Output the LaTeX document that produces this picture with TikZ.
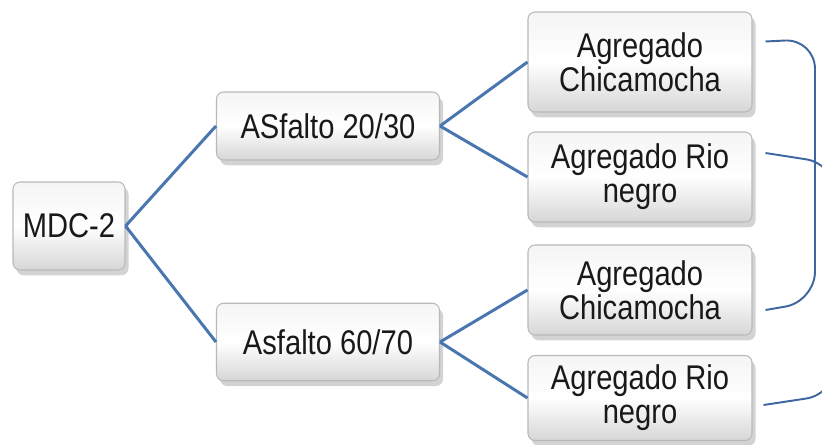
\documentclass[tikz,border=0pt]{standalone}
\usepackage{fontspec}
\setmainfont[FakeStretch=0.85]{Liberation Sans}
\usetikzlibrary{shadows}

\begin{document}
\begin{tikzpicture}[
    box/.style={rectangle, rounded corners=4pt, draw=gray!55, line width=0.6pt,
        top color=gray!8, bottom color=gray!32, middle color=white,
        drop shadow={opacity=0.35, shadow xshift=2pt, shadow yshift=-3pt},
        align=center, text=black!90, inner sep=2pt,
        font=\fontsize{19.5}{19.5}\selectfont},
    link/.style={draw={rgb,255:red,74;green,118;blue,176}, line width=1.7pt},
    brace/.style={draw={rgb,255:red,62;green,102;blue,160}, line width=1.1pt, rounded corners=0.6cm}
]
            \clip (0,0) rectangle (16.44,8.88);
            % root
            \node[box, minimum width=2.24cm, minimum height=1.76cm] (mdc) at (1.38, 4.36) {MDC-2};
            % asphalt boxes
            \node[box, minimum width=4.46cm, minimum height=1.36cm] (asA) at (6.56, 6.36) {ASfalto 20/30};
            \node[box, minimum width=4.46cm, minimum height=1.55cm] (asB) at (6.56, 2.04) {Asfalto 60/70};
            % aggregate boxes
            \node[box, minimum width=4.48cm, minimum height=2.0cm] (chiA) at (12.8, 7.64) {Agregado\\Chicamocha};
            \node[box, minimum width=4.48cm, minimum height=1.8cm] (rioA) at (12.8, 5.34) {Agregado Rio\\negro};
            \node[box, minimum width=4.48cm, minimum height=1.8cm] (chiB) at (12.8, 3.08) {Agregado\\Chicamocha};
            \node[box, minimum width=4.48cm, minimum height=1.7cm] (rioB) at (12.8, 0.92) {Agregado Rio\\negro};
            % tree edges
            \draw[link] (mdc.east) -- (asA.west);
            \draw[link] (mdc.east) -- (asB.west);
            \draw[link] (asA.east) -- (chiA.west);
            \draw[link] (asA.east) -- (rioA.west);
            \draw[link] (asB.east) -- (chiB.west);
            \draw[link] (asB.east) -- (rioB.west);
            % right brackets
            \draw[brace] ([shift={(0.26,-0.6)}]chiA.north east) -- (16.3,8.1) -- (16.3,2.85) -- ([shift={(0.26,0.0)}]chiB.south east |- 0,2.68);
            \draw[brace] ([shift={(0.26,0)}]rioA.east |- 0,5.82) -- (16.72,5.6) -- (16.72,1.0) -- ([shift={(0.22,0)}]rioB.east |- 0,0.78);
        \end{tikzpicture}
\end{document}
